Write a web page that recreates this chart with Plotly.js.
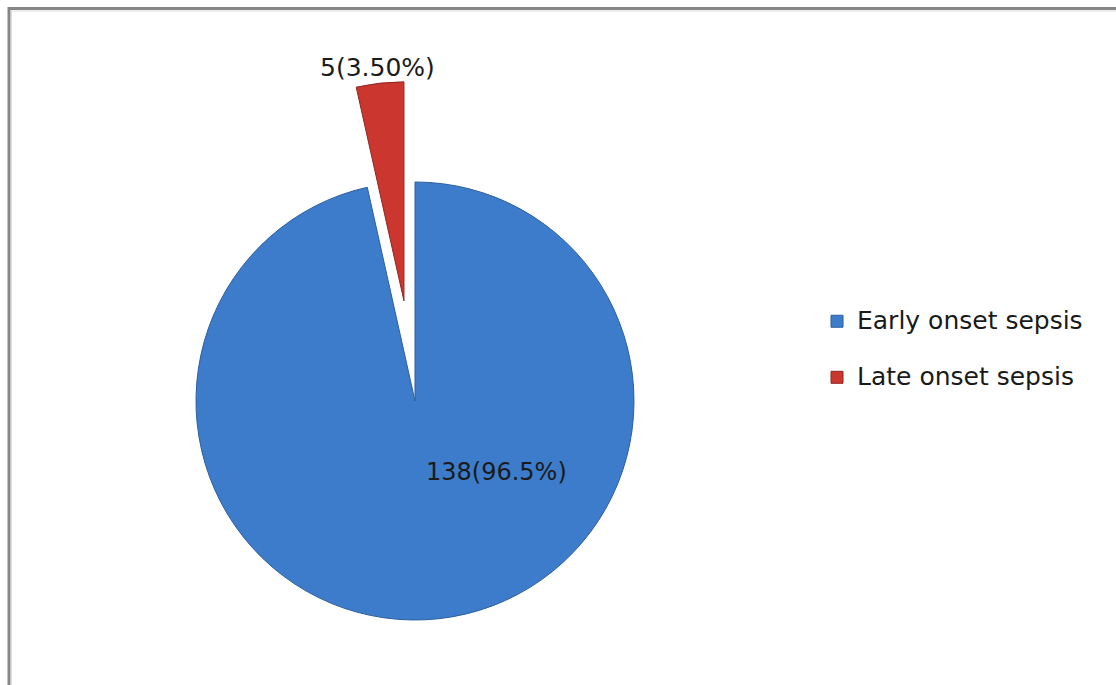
<!DOCTYPE html>
<html><head><meta charset="utf-8">
<script src="https://cdn.plot.ly/plotly-3.0.1.min.js"></script>
<style>
html,body{margin:0;padding:0;background:#fff;overflow:hidden;}
#wrap{width:1116px;height:685px;overflow:hidden;}
#chart{width:1116px;height:800px;}
</style>
</head><body><div id="wrap"><div id="chart"></div></div>
<script>
// ---- data ----
const categories = ['Early onset sepsis', 'Late onset sepsis'];
const counts = [138, 5];
const dataLabels = ['138(96.5%)', '5(3.50%)'];

// ---- styling / layout ----
const sliceColors = ['#3D7CCA', '#CB372F'];
const sliceEdges = ['#2C5E9E', '#8E2721'];
const pulls = [0, 0.46];
const labelPos = [[496, 472], [377, 67]];

const W = 1116, H = 800;
const cx = 415, cy = 401, R = 219;
const px = v => v / W, py = v => 1 - v / H;
const half = R * (1 + Math.max(...pulls));

const trace = {
  type: 'pie',
  labels: categories.map(c => '<span style="font-size:25px">' + c + '</span><br> '),
  values: counts,
  sort: false,
  direction: 'clockwise',
  rotation: 0,
  pull: pulls,
  textinfo: 'none',
  hoverinfo: 'none',
  marker: {colors: sliceColors, line: {color: sliceEdges, width: 1}},
  domain: {x: [px(cx - half), px(cx + half)], y: [py(cy + half), py(cy - half)]}
};

const layout = {
  width: W, height: H,
  margin: {l: 0, r: 0, t: 0, b: 0},
  paper_bgcolor: '#ffffff',
  showlegend: true,
  legend: {
    x: px(817), xanchor: 'left', y: py(363), yanchor: 'middle',
    valign: 'top',
    font: {family: 'DejaVu Sans', size: 20.4, color: '#1a1a1a'},
    bgcolor: 'rgba(0,0,0,0)'
  },
  annotations: dataLabels.map((t, i) => ({
    text: t, xref: 'paper', yref: 'paper',
    x: px(labelPos[i][0]), y: py(labelPos[i][1]),
    xanchor: 'center', yanchor: 'middle', showarrow: false,
    font: {family: 'DejaVu Sans', size: i === 0 ? 24 : 25, color: '#1b1b1b'}
  })),
  shapes: [
    {type: 'rect', xref: 'paper', yref: 'paper', x0: px(9), y0: py(8.5), x1: 1.1, y1: -0.1,
     line: {color: '#868686', width: 3}, fillcolor: 'rgba(0,0,0,0)', layer: 'below'},
    {type: 'rect', xref: 'paper', yref: 'paper', x0: px(11.5), y0: py(11), x1: 1.1, y1: -0.1,
     line: {color: '#dcdcdc', width: 1}, fillcolor: 'rgba(0,0,0,0)', layer: 'below'}
  ]
};

Plotly.newPlot('chart', [trace], layout, {displayModeBar: false, staticPlot: true});
</script>
</body></html>
